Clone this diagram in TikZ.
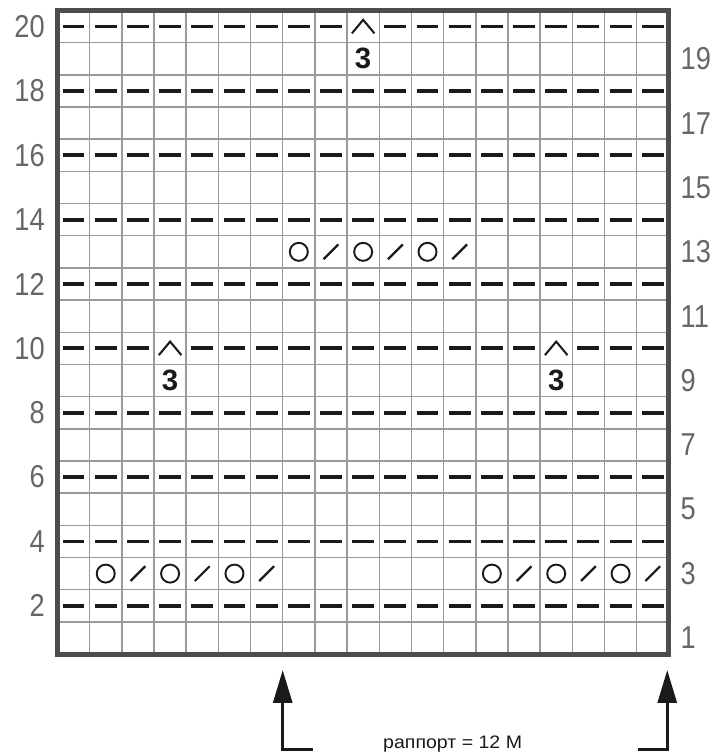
\documentclass[tikz,border=0pt]{standalone}
\usepackage{fontspec}
\setmainfont{Liberation Sans}
\usetikzlibrary{arrows.meta}
\definecolor{gridgray}{HTML}{9A9A9A}
\definecolor{framegray}{HTML}{4D4D4D}
\definecolor{numgray}{HTML}{666666}
\definecolor{ink}{HTML}{1A1A1A}
\tikzset{
  every picture/.style={line join=round, >=Stealth},
  cellgrid/.style={gridgray, line width=1.3pt},
  chartframe/.style={framegray, line width=4.4pt, line join=miter},
  purl/.style={ink, line width=3.3pt},
  yarnover/.style={ink, line width=1.7pt},
  knittog/.style={ink, line width=2pt},
  decrease/.style={ink, line width=1.8pt, line join=miter},
  rownum/.style={numgray, font=\fontsize{28}{30}\selectfont, xscale=0.86, inner sep=0pt},
  stcount/.style={ink, font=\fontsize{26}{28}\selectfont\bfseries, inner sep=0pt},
  repeatarrow/.style={->, ink, line width=2.6pt, line join=miter, >={Triangle[length=1.02cm, width=0.59cm]}},
}

\begin{document}
\begin{tikzpicture}
\useasboundingbox (-1.786,-3.075) rectangle (20.73,20.326);
\draw[cellgrid] (0,0) grid (19,20);
% purl stitches on the even rows
\foreach \r in {2,4,...,20}
  \foreach \c in {1,...,19}{
    \pgfmathtruncatemacro\gap{((\r==20)&&(\c==10))||((\r==10)&&((\c==4)||(\c==16)))}
    \ifnum\gap=0
      \draw[purl] (\c-0.84,\r-0.5) -- (\c-0.16,\r-0.5);
    \fi
  }
% yarn overs and decreases
\foreach \c in {2,4,6,14,16,18}{
  \draw[yarnover] (\c-0.5,2.5) circle (0.28);
  \draw[knittog] (\c+0.27,2.27) -- (\c+0.73,2.73);
}
\foreach \c in {8,10,12}{
  \draw[yarnover] (\c-0.5,12.5) circle (0.28);
  \draw[knittog] (\c+0.27,12.27) -- (\c+0.73,12.73);
}
% three together
\foreach \c/\r in {10/20,4/10,16/10}{
  \draw[decrease] (\c-0.85,\r-0.71) -- (\c-0.5,\r-0.29) -- (\c-0.15,\r-0.71);
  \node[stcount] (three\c\r) at (\c-0.5,\r-1.5) {3};
}
\draw[chartframe] (0,0) rectangle (19,20);
% row numbers
\foreach \r in {2,4,...,20}
  \node[rownum, anchor=east] (lnum\r) at (-0.39,\r-0.5) {\r};
\foreach \r in {1,3,...,19}
  \node[rownum, anchor=west] (rnum\r) at (19.36,\r-0.5) {\r};
% repeat
\coordinate (lfoot) at (7.93,-2.96);
\coordinate (lbend) at (7,-2.96);
\coordinate (ltip) at (7,-0.5);
\coordinate (rfoot) at (18.03,-2.96);
\coordinate (rbend) at (18.95,-2.96);
\coordinate (rtip) at (18.95,-0.5);
\draw[repeatarrow] (lfoot) -- (lbend) -- (ltip);
\draw[repeatarrow] (rfoot) -- (rbend) -- (rtip);
\node[ink, font=\fontsize{16}{18}\selectfont, anchor=base, xscale=1.08] (rapport) at (12.28,-2.95) {раппорт = 12 М};
\end{tikzpicture}
\end{document}
